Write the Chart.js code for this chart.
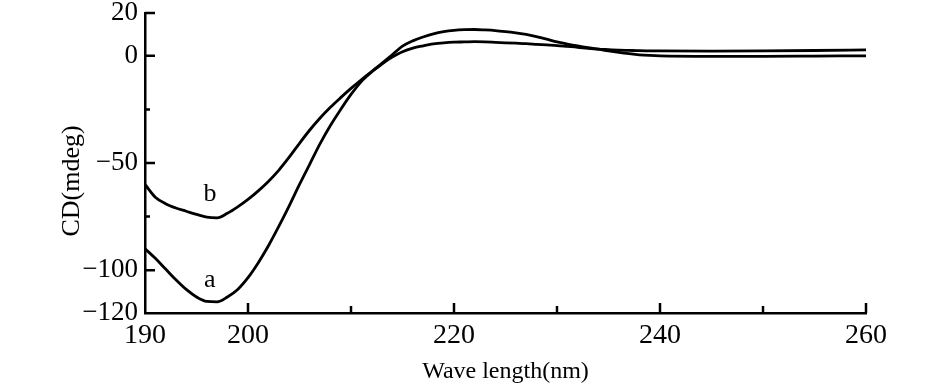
<!DOCTYPE html>
<html>
<head>
<meta charset="utf-8">
<script src="https://cdn.jsdelivr.net/npm/chart.js@4.4.1/dist/chart.umd.min.js"></script>
<style>
  body { margin: 0; background: #fff; }
  #wrap { width: 945px; height: 391px; position: relative; }
</style>
</head>
<body>
<div id="wrap"><canvas id="cdChart"></canvas></div>
<script>
// wavelength (nm)
const wavelengths = [190,191,192,193,194,195,196,197,198,199,200,201,202,203,204,205,206,207,208,209,
  210,211,212,213,214,215,216,217,218,219,220,221,222,223,224,225,226,227,228,229,
  230,231,232,233,234,235,236,237,238,239,240,245,250,255,260];

// curve a
const cdA = [-90,-94.5,-99.5,-104.5,-109,-112.5,-114.6,-114.8,-112.5,-109,-103.5,-96.5,-88.5,-79.5,-70,-60,-50.5,-41,-32.5,-25,
  -18,-12,-7.5,-3.5,0.5,4.5,7,8.8,10.3,11.3,11.9,12.2,12.3,12.1,11.8,11.3,10.7,10,9,7.8,
  6.5,5.5,4.6,3.8,3.1,2.3,1.6,1,0.5,0.2,0,-0.2,-0.2,-0.1,0];

// curve b
const cdB = [-60,-66,-69,-71,-72.5,-74,-75.3,-75.6,-73.5,-70.5,-67,-63,-58.5,-53.3,-47.3,-40.8,-34.6,-29,-24,-19.5,
  -15.2,-11.2,-7.4,-3.8,-0.6,1.9,3.6,4.7,5.6,6.1,6.4,6.5,6.6,6.5,6.3,6.1,5.9,5.7,5.4,5.1,
  4.8,4.4,4,3.5,3.1,2.9,2.7,2.55,2.4,2.35,2.3,2.2,2.3,2.5,2.8];

const xTickLabels = [190, 200, 220, 240, 260];
const xMinorTicks = [210, 230, 250];
const yTickLabels = [20, 0, -50, -100, -120];
const yMinorTicks = [-25, -75];

const serif = "'Liberation Serif', 'DejaVu Serif', serif";

function toPoints(ys) {
  return wavelengths.map((x, i) => ({ x: x, y: ys[i] }));
}

// tick marks drawn inward, plus axis titles and curve labels
const decor = {
  id: 'decor',
  afterDraw(chart) {
    const { ctx, chartArea, scales } = chart;
    const xs = scales.x, ys = scales.y;
    ctx.save();
    ctx.strokeStyle = '#000';
    ctx.lineWidth = 2.5;
    ctx.beginPath();
    [20, 0, -50, -100].forEach(v => {
      const py = ys.getPixelForValue(v);
      ctx.moveTo(chartArea.left, py); ctx.lineTo(chartArea.left + 10, py);
    });
    yMinorTicks.forEach(v => {
      const py = ys.getPixelForValue(v);
      ctx.moveTo(chartArea.left, py); ctx.lineTo(chartArea.left + 5, py);
    });
    [200, 220, 240, 260].forEach(v => {
      const px = xs.getPixelForValue(v);
      ctx.moveTo(px, chartArea.bottom); ctx.lineTo(px, chartArea.bottom - 10);
    });
    xMinorTicks.forEach(v => {
      const px = xs.getPixelForValue(v);
      ctx.moveTo(px, chartArea.bottom); ctx.lineTo(px, chartArea.bottom - 7);
    });
    ctx.stroke();

    ctx.fillStyle = '#000';
    ctx.textAlign = 'center';
    ctx.textBaseline = 'middle';
    ctx.font = '24px ' + serif;
    ctx.fillText('Wave length(nm)', (chartArea.left + chartArea.right) / 2, 372);

    ctx.save();
    ctx.translate(72, 181);
    ctx.rotate(-Math.PI / 2);
    ctx.font = '26px ' + serif;
    ctx.fillText('CD(mdeg)', 0, 0);
    ctx.restore();

    ctx.font = '26px ' + serif;
    ctx.fillText('b', xs.getPixelForValue(196.3), ys.getPixelForValue(-64.5));
    ctx.fillText('a', xs.getPixelForValue(196.3), ys.getPixelForValue(-104.5));
    ctx.restore();
  }
};

const chart = new Chart(document.getElementById('cdChart').getContext('2d'), {
  type: 'line',
  data: {
    datasets: [
      { label: 'a', data: toPoints(cdA), borderColor: '#000', borderWidth: 2.8, pointRadius: 0, fill: false, cubicInterpolationMode: 'monotone' },
      { label: 'b', data: toPoints(cdB), borderColor: '#000', borderWidth: 2.8, pointRadius: 0, fill: false, cubicInterpolationMode: 'monotone' }
    ]
  },
  options: {
    responsive: true,
    maintainAspectRatio: false,
    animation: false,
    layout: { padding: { top: 13, right: 79, left: 0, bottom: 0 } },
    plugins: { legend: { display: false }, tooltip: { enabled: false } },
    scales: {
      x: {
        type: 'linear',
        min: 190, max: 260,
        afterFit: (s) => { s.height = 78; s.paddingLeft = 0; s.paddingRight = 0; },
        afterBuildTicks: (s) => { s.ticks = xTickLabels.map(v => ({ value: v })); },
        grid: { display: false, drawTicks: false },
        border: { display: true, color: '#000', width: 2.5 },
        ticks: { color: '#000', font: { family: serif, size: 28 }, padding: 6, maxRotation: 0 }
      },
      y: {
        type: 'linear',
        min: -120, max: 20,
        afterFit: (s) => { s.width = 145; s.paddingTop = 0; s.paddingBottom = 0; },
        afterBuildTicks: (s) => { s.ticks = yTickLabels.map(v => ({ value: v })); },
        grid: { display: false, drawTicks: false },
        border: { display: true, color: '#000', width: 2.5 },
        ticks: {
          color: '#000', font: { family: serif, size: 27 }, padding: 7,
          callback: (v) => String(v).replace('-', '\u2212')
        }
      }
    }
  },
  plugins: [decor]
});
</script>
</body>
</html>
